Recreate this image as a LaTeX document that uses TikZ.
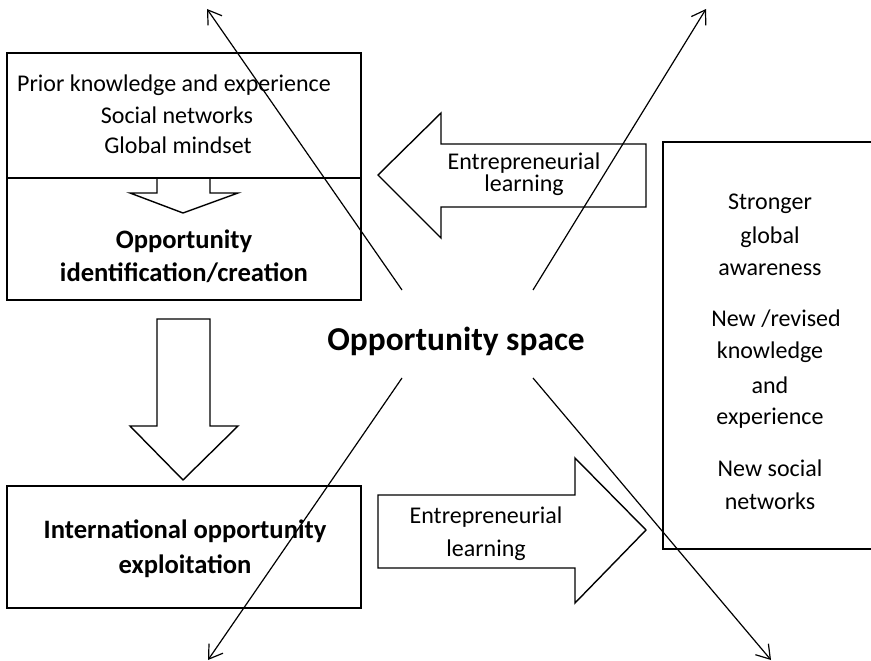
\documentclass[tikz,border=0pt]{standalone}
\usepackage{fontspec}
\setmainfont{Carlito}
\usetikzlibrary{arrows.meta}
\begin{document}
\begin{tikzpicture}[x=1pt,y=-1pt,
  box/.style={draw,line width=1.5pt},
  hollow/.style={draw,line width=1.4pt,line join=miter},
  diag/.style={line width=1.2pt,-{Straight Barb[length=13pt,width=17pt,line width=1.2pt]}},
  txt/.style={font=\fontsize{24}{30}\selectfont,align=center,inner sep=0pt},
  btxt/.style={font=\fontsize{26.6}{32}\selectfont\bfseries,align=center,inner sep=0pt}]
\useasboundingbox (0,0) rectangle (871,661);
% top-left box
\draw[box] (7,53) rectangle (361,300);
\draw[box] (7,178) -- (361,178);
\node[txt] (prior) at (174,85) {Prior knowledge and experience};
\node[txt] (soc) at (177,115) {Social networks};
\node[txt] (glob) at (178,145) {Global mindset};
\draw[hollow] (157,178) -- (157,193) -- (130,193) -- (183,213) -- (238,193) -- (210,193) -- (210,178);
\node[btxt] (oic1) at (184,241) {Opportunity};
\node[btxt] (oic2) at (184,273) {identification/creation};
% big down arrow
\draw[hollow] (157,319) -- (210,319) -- (210,426) -- (238,426) -- (183,480) -- (130,426) -- (157,426) -- cycle;
% bottom-left box
\draw[box] (7,486) rectangle (361,608);
\node[btxt] (ioe1) at (185,531) {International opportunity};
\node[btxt] (ioe2) at (185,566) {exploitation};
% upper left-pointing arrow
\draw[hollow] (646,144) -- (441,144) -- (441,113) -- (378,175) -- (441,238) -- (441,207) -- (646,207) -- cycle;
\node[txt] (el1) at (524,163) {Entrepreneurial};
\node[txt] (el2) at (524,185) {learning};
% lower right-pointing arrow
\draw[hollow] (378,495) -- (575,495) -- (575,458) -- (646,530) -- (575,603) -- (575,568) -- (378,568) -- cycle;
\node[txt] (el3) at (486,517) {Entrepreneurial};
\node[txt] (el4) at (486,550) {learning};
% right box (cut off at the right)
\draw[box] (871,142) -- (663,142) -- (663,549) -- (871,549);
\node[txt] (r1) at (770,204) {Stronger};
\node[txt] (r2) at (770,237) {global};
\node[txt] (r3) at (770,270) {awareness};
\node[txt] (r4) at (776,319) {New /revised};
\node[txt] (r5) at (770,352) {knowledge};
\node[txt] (r6) at (770,385) {and};
\node[txt] (r7) at (770,418) {experience};
\node[txt] (r8) at (770,468) {New social};
\node[txt] (r9) at (770,501) {networks};
% centre
\node[font=\fontsize{33.4}{36}\selectfont\bfseries,inner sep=0pt] (os) at (456,341) {Opportunity space};
\coordinate (s1) at (402,290);
\coordinate (s2) at (533,290);
\coordinate (s3) at (402,378);
\coordinate (s4) at (533,378);
\coordinate (t1) at (207,9);
\coordinate (t2) at (706,9);
\coordinate (t3) at (208,660);
\coordinate (t4) at (771,660);
\draw[diag] (s1) -- (t1);
\draw[diag] (s2) -- (t2);
\draw[diag] (s3) -- (t3);
\draw[diag] (s4) -- (t4);
\end{tikzpicture}
\end{document}
